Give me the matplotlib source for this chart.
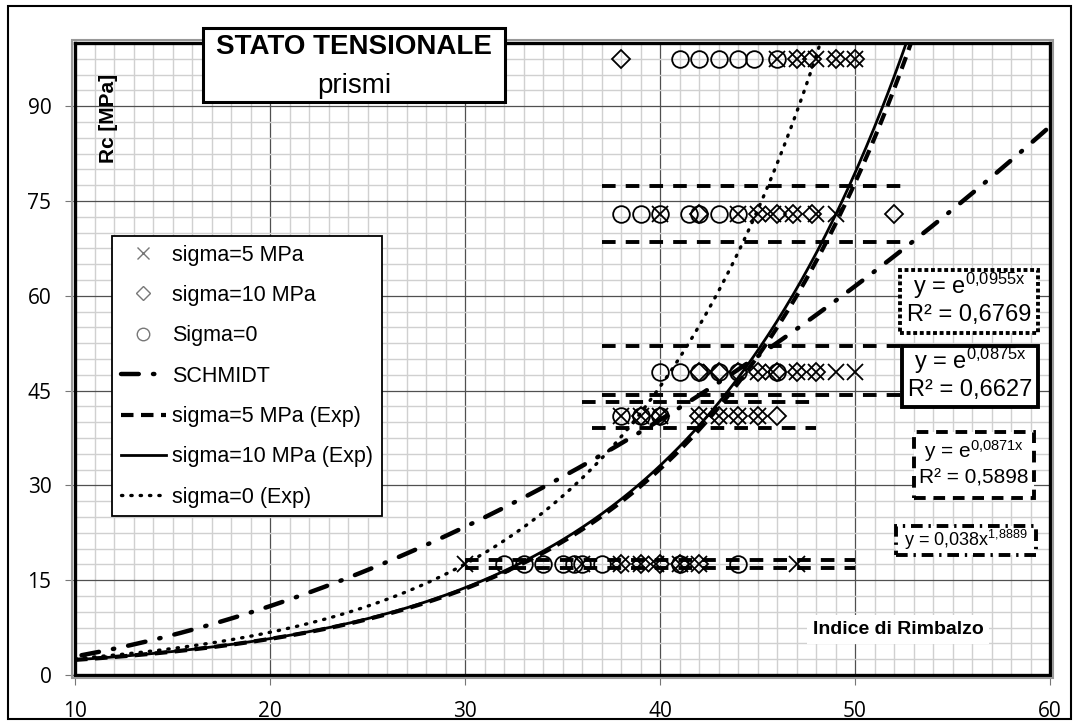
import numpy as np
import matplotlib
matplotlib.use("Agg")
import matplotlib.pyplot as plt
from matplotlib.lines import Line2D
from matplotlib.patches import Rectangle

plt.rcParams['font.family'] = ['Liberation Sans', 'DejaVu Sans']

# Rc levels (rows of points) and rebound index readings for each stress state
rc_rows = [97.5, 73, 48, 41, 17.5]
ir_sigma0 = [[41, 42, 43, 44, 44.8, 46],
             [38, 39, 40, 41.5, 42, 43, 44],
             [40, 41, 42, 43, 44, 46],
             [38, 39, 40],
             [32, 33, 34, 35, 35.6, 36, 37, 41, 44]]
ir_sigma5 = [[46, 47, 48, 49, 50],
             [40, 44, 45, 45.8, 46.8, 48, 49],
             [42.6, 45, 45.8, 47, 48, 49, 50],
             [38, 39, 40, 42, 43, 44, 45],
             [30, 36, 38, 39, 39.8, 41, 42, 47]]
ir_sigma10 = [[38, 47, 47.8, 49, 50],
              [42, 45, 46, 46.8, 47.8, 52],
              [42, 43, 44, 45, 46, 47, 48],
              [39, 40, 42, 43, 44, 45, 46],
              [38, 39, 40, 41, 42]]

# horizontal dashed bands (error bars of the sigma=5 series)
band_y = [77.3, 68.5, 52.0, 44.3, 43.2, 39.1, 18.2, 17.0]
band_x0 = [37, 37, 37, 37, 36, 36.5, 30, 30]
band_x1 = [52.5, 52.5, 52.4, 52.4, 48, 48, 50, 50]

# trendline coefficients (y = e^(k x), Schmidt y = a x^b)
k_sigma0 = 0.0955
k_sigma5 = 0.0871
k_sigma10 = 0.0875
schmidt_a, schmidt_b = 0.038, 1.8889

fig = plt.figure(figsize=(10.79, 7.25), dpi=100)
ax = fig.add_axes([75 / 1079, 1 - 675 / 725, 975 / 1079, 632 / 725])
ax.set_xlim(10, 60)
ax.set_ylim(0, 100)
ax.set_xticks(np.arange(10, 61, 10))
ax.set_yticks(np.arange(0, 91, 15))
ax.set_xticks(np.arange(10, 61, 1), minor=True)
ax.set_yticks(np.arange(0, 100.1, 2.5), minor=True)
ax.grid(which='minor', color='#d0d0d0', lw=1)
ax.grid(which='major', color='#505050', lw=0.9)
ax.set_axisbelow(True)
ax.tick_params(which='minor', length=0)
ax.tick_params(axis='x', which='major', length=7, color='#777777', pad=12, labelsize=15)
ax.tick_params(axis='y', which='major', length=7, color='#777777', pad=10, labelsize=15)
for lbl in ax.get_xticklabels() + ax.get_yticklabels():
    lbl.set_fontfamily(['Open Sans', 'DejaVu Sans'])
for sp in ax.spines.values():
    sp.set_linewidth(2.4)
ax.add_patch(Rectangle((-0.003, -0.005), 1.006, 1.01, transform=ax.transAxes, fill=False,
                       ec='#999999', lw=1.5, clip_on=False, zorder=5))

# points
mk = dict(ls='none', mfc='none', mec='black', mew=1.3, zorder=4)
for y, xs in zip(rc_rows, ir_sigma0):
    ax.plot(xs, [y] * len(xs), marker='o', ms=12, **mk)
for y, xs in zip(rc_rows, ir_sigma5):
    ax.plot(xs, [y] * len(xs), marker='x', ms=12, **mk)
for y, xs in zip(rc_rows, ir_sigma10):
    ax.plot(xs, [y] * len(xs), marker='D', ms=9, **mk)

ax.hlines(band_y, band_x0, band_x1, colors='black', lw=2.8,
          linestyles=[(0, (3.5, 2.6))], zorder=3)

# trend curves
xf = np.linspace(10, 60, 600)
ax.plot(xf[xf >= 10.3], schmidt_a * xf[xf >= 10.3] ** schmidt_b, color='black', lw=3.2,
        dashes=(4, 3.2, 0.3, 3.2), dash_capstyle='round', zorder=3)
ax.plot(xf, np.exp(k_sigma5 * xf), color='black', lw=3, dashes=(3, 1.8), zorder=3)
ax.plot(xf, np.exp(k_sigma10 * xf), color='black', lw=2, zorder=3)
ax.plot(xf, np.exp(k_sigma0 * xf), color='black', lw=2.4, dashes=(0.4, 2.4),
        dash_capstyle='round', zorder=3)

# legend
handles = [
    Line2D([], [], ls='none', marker='x', ms=9, mec='#777777', mew=1),
    Line2D([], [], ls='none', marker='D', ms=7, mfc='none', mec='#777777', mew=1),
    Line2D([], [], ls='none', marker='o', ms=9, mfc='none', mec='#777777', mew=1),
    Line2D([], [], color='black', lw=3.2, dashes=(4, 3.2, 0.3, 3.2), dash_capstyle='round'),
    Line2D([], [], color='black', lw=3, dashes=(3, 1.8)),
    Line2D([], [], color='black', lw=2),
    Line2D([], [], color='black', lw=2.4, dashes=(0.4, 2.4), dash_capstyle='round'),
]
labels = ['sigma=5 MPa', 'sigma=10 MPa', 'Sigma=0', 'SCHMIDT',
          'sigma=5 MPa (Exp)', 'sigma=10 MPa (Exp)', 'sigma=0 (Exp)']
leg = ax.legend(handles, labels, loc='upper left',
                bbox_to_anchor=((112 - 75) / 975, (675 - 236) / 632),
                fontsize=15.5, frameon=True, fancybox=False, edgecolor='black',
                framealpha=1, labelspacing=0.9, handlelength=2.1, handletextpad=0.3,
                borderpad=0.4, borderaxespad=0)
leg.get_frame().set_linewidth(1.3)
leg.set_zorder(6)

# trendline labels
def eq_box(x0, y0, w, h, ls, lines, size):
    ax.add_patch(Rectangle((x0, y0), w, h, fc='white', ec='black', lw=2.8, ls=ls, zorder=6))
    for ty, txt in lines:
        ax.text(x0 + w / 2, ty, txt, ha='center', va='center', fontsize=size, zorder=7)

eq_box(52.3, 54.1, 7.1, 10.0, (0, (1, 0.7)),
       [(61.6, 'y = e$\\mathregular{^{0{,}0955x}}$'), (57.0, 'R² = 0,6769')], 17)
eq_box(52.4, 42.4, 7.0, 9.7, '-',
       [(49.7, 'y = e$\\mathregular{^{0{,}0875x}}$'), (45.1, 'R² = 0,6627')], 17)
eq_box(53.0, 28.0, 6.2, 10.4, (0, (3, 2)),
       [(35.5, 'y = e$\\mathregular{^{0{,}0871x}}$'), (31.2, 'R² = 0,5898')], 15)
eq_box(52.1, 19.0, 7.2, 4.6, (0, (3, 1.5, 0.6, 1.5)),
       [(21.3, 'y = 0,038x$\\mathregular{^{1{,}8889}}$')], 13)

ax.text(11.7, 88, 'Rc [MPa]', rotation=90, fontweight='bold', fontsize=15,
        ha='center', va='center', zorder=7)
ax.text(52.2, 7.2, 'Indice di Rimbalzo', fontweight='bold', fontsize=14, ha='center',
        va='center', zorder=7,
        bbox=dict(fc='white', ec='none', pad=4))

# title box above the plot
fig.add_artist(Rectangle((203 / 1079, 1 - 102 / 725), 302 / 1079, 74 / 725,
                         transform=fig.transFigure, fc='white', ec='black', lw=2.2, zorder=8))
fig.text(354 / 1079, 1 - 47 / 725, 'STATO TENSIONALE', fontweight='bold', fontsize=20,
         ha='center', va='center', zorder=9)
fig.text(354 / 1079, 1 - 86 / 725, 'prismi', fontsize=20, ha='center', va='center', zorder=9)

# outer figure border
fig.add_artist(Rectangle((8 / 1079, 6 / 725), 1063 / 1079, 713 / 725,
                         transform=fig.transFigure, fill=False, ec='black', lw=1.5))

fig.savefig('out.png', dpi=100)
